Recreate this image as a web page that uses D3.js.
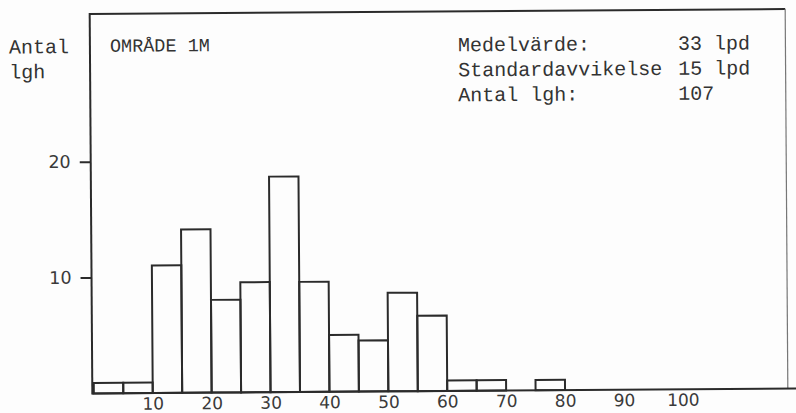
<!DOCTYPE html>
<html>
<head>
<meta charset="utf-8">
<script src="https://cdn.jsdelivr.net/npm/d3@7"></script>
<style>
  body { margin: 0; background: #fdfdfd; }
  svg { display: block; }
</style>
</head>
<body>
<div id="chart"></div>
<script>
// histogram: number of flats per water use class (lpd), 5 lpd bins
const binStarts = [0, 5, 10, 15, 20, 25, 30, 35, 40, 45, 50, 55, 60, 65, 70, 75];
const binWidth = 5;
const counts = [0.9, 0.9, 11, 14.1, 8, 9.5, 18.6, 9.5, 4.9, 4.4, 8.5, 6.5, 0.9, 0.9, 0, 0.9];
const xTicks = [10, 20, 30, 40, 50, 60, 70, 80, 90, 100];
const yTicks = [10, 20];
const yLabel = ['Antal', 'lgh'];
const areaTitle = 'OMRÅDE 1M';
const statLabels = ['Medelvärde:', 'Standardavvikelse', 'Antal lgh:'];
const statValues = ['33 lpd', '15 lpd', '107'];

const width = 796;
const height = 413;
const frame = {top: 11.5, left: 91, right: 786.5};
const ink = '#2b2b2b';
const mono = '"Liberation Mono", "DejaVu Sans Mono", monospace';

const svg = d3.select('#chart').append('svg')
  .attr('width', width)
  .attr('height', height);

// the scanned page sits slightly askew
const g = svg.append('g')
  .attr('transform', 'rotate(-0.4 440 200)');

const x = d3.scaleLinear()
  .domain([0, 100])
  .range([92.5, 681.5]);

const y = d3.scaleLinear()
  .domain([0, 20])
  .range([391, 159.2]);

const bins = binStarts.map((b, i) => ({x0: b, x1: b + binWidth, n: counts[i]}))
  .filter(d => d.n > 0);

g.append('g')
  .selectAll('rect')
  .data(bins)
  .join('rect')
  .attr('x', d => x(d.x0))
  .attr('y', d => y(d.n))
  .attr('width', d => x(d.x1) - x(d.x0))
  .attr('height', d => y(0) - y(d.n))
  .attr('fill', 'none')
  .attr('stroke', ink)
  .attr('stroke-width', 2);

// frame: top rule, thin right edge, baseline, left axis
g.append('line')
  .attr('x1', frame.left).attr('x2', frame.right)
  .attr('y1', frame.top).attr('y2', frame.top)
  .attr('stroke', ink).attr('stroke-width', 2);

g.append('line')
  .attr('x1', frame.right).attr('x2', frame.right)
  .attr('y1', frame.top).attr('y2', y(0))
  .attr('stroke', '#777').attr('stroke-width', 1.2);

g.append('line')
  .attr('x1', frame.left).attr('x2', width + 10)
  .attr('y1', y(0)).attr('y2', y(0))
  .attr('stroke', ink).attr('stroke-width', 2);

g.append('line')
  .attr('x1', frame.left).attr('x2', frame.left)
  .attr('y1', frame.top - 1).attr('y2', y(0) + 1)
  .attr('stroke', ink).attr('stroke-width', 2);

const yAxis = g.append('g')
  .attr('transform', `translate(${frame.left},0)`)
  .call(d3.axisLeft(y).tickValues(yTicks).tickSize(11).tickPadding(9));

yAxis.select('.domain').remove();
yAxis.selectAll('line').attr('stroke', ink).attr('stroke-width', 2);
yAxis.selectAll('text')
  .attr('fill', '#3a3a3a')
  .style('font-family', '"DejaVu Sans", sans-serif')
  .style('font-size', '17.5px');

const xAxis = g.append('g')
  .attr('transform', `translate(0,${y(0)})`)
  .call(d3.axisBottom(x).tickValues(xTicks).tickSize(0).tickPadding(4.5));

xAxis.select('.domain').remove();
xAxis.selectAll('text')
  .attr('fill', '#3a3a3a')
  .style('font-family', '"DejaVu Sans", sans-serif')
  .style('font-size', '17px');

g.append('text')
  .attr('x', 10)
  .attr('y', 50.5)
  .attr('fill', '#333')
  .style('font-family', mono)
  .style('font-size', '20px')
  .selectAll('tspan')
  .data(yLabel)
  .join('tspan')
  .attr('x', 10)
  .attr('dy', (d, i) => i ? 25 : 0)
  .text(d => d);

g.append('text')
  .attr('x', 111)
  .attr('y', 49.5)
  .attr('fill', '#333')
  .style('font-family', mono)
  .style('font-size', '18.5px')
  .text(areaTitle);

const stats = g.append('g')
  .attr('fill', '#333')
  .style('font-family', mono)
  .style('font-size', '20px');

stats.selectAll('text.label')
  .data(statLabels)
  .join('text')
  .attr('class', 'label')
  .attr('x', 459)
  .attr('y', (d, i) => 51.5 + i * 25)
  .text(d => d);

stats.selectAll('text.value')
  .data(statValues)
  .join('text')
  .attr('class', 'value')
  .attr('x', 679)
  .attr('y', (d, i) => 51.5 + i * 25)
  .text(d => d);
</script>
</body>
</html>
